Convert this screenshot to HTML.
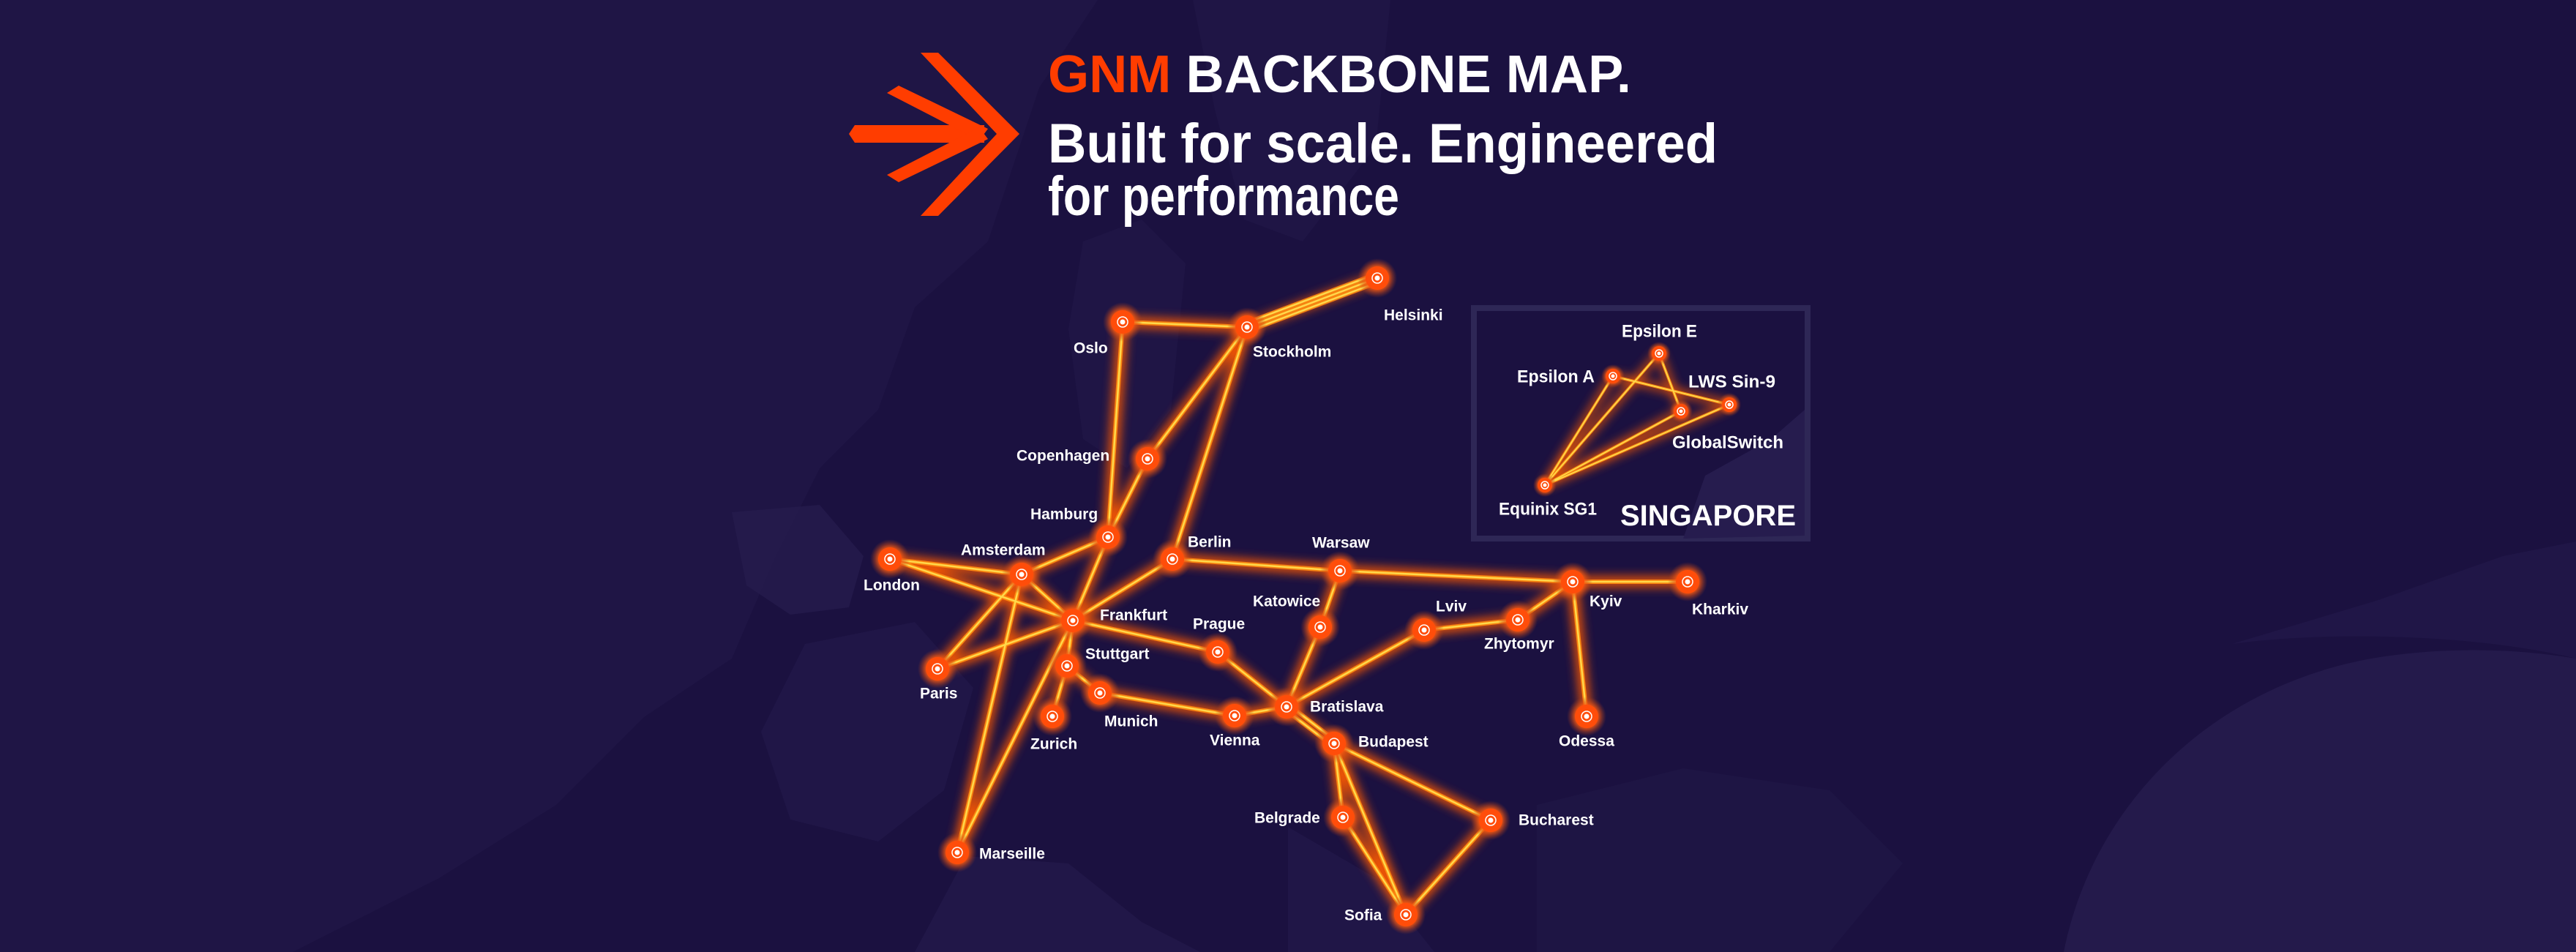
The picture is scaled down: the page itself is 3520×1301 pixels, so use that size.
<!DOCTYPE html>
<html><head><meta charset="utf-8"><style>
html,body{margin:0;padding:0;background:#1b1140;}
svg{display:block}
text{font-family:"Liberation Sans",sans-serif;font-weight:bold;fill:#fff}
</style></head><body>
<svg width="3520" height="1301" viewBox="0 0 3520 1301" xmlns="http://www.w3.org/2000/svg">
<defs>
<filter id="glow" x="-20%" y="-20%" width="140%" height="140%"><feGaussianBlur stdDeviation="7"/></filter>
<radialGradient id="halo"><stop offset="0.55" stop-color="#ff5a10" stop-opacity="0.9"/><stop offset="1" stop-color="#a8401e" stop-opacity="0.0"/></radialGradient>
</defs>
<rect width="3520" height="1301" fill="#1b1140"/>
<!-- land masses -->
<g fill="#261c4e">
<path d="M0 0 H1500 L1420 120 L1350 330 L1250 420 L1200 560 L1120 640 L1060 760 L1000 900 L880 980 L760 1100 L600 1200 L400 1301 H0 Z" opacity="0.4"/>
<path d="M1000 700 L1120 690 L1180 760 L1160 830 L1080 840 L1020 800 Z" opacity="0.7"/>
<path d="M1100 880 L1250 850 L1330 940 L1290 1080 L1200 1150 L1080 1120 L1040 1000 Z" opacity="0.5"/>
<path d="M1320 1170 L1460 1180 L1560 1260 L1640 1301 H1250 Z" opacity="0.6"/>
<path d="M1760 1130 L1880 1200 L1960 1301 H1760 Z" opacity="0.5"/>
<path d="M2820 1301 C2860 1100 3020 940 3240 900 C3360 880 3460 890 3520 900 V1301 Z" opacity="0.85"/>
<path d="M3050 880 L3250 820 L3420 760 L3520 740 V900 C3400 870 3200 860 3050 880 Z" opacity="0.5"/>
<path d="M2100 1100 L2300 1050 L2500 1080 L2600 1180 L2500 1301 H2100 Z" opacity="0.35"/>
<path d="M1480 330 L1560 300 L1620 360 L1600 560 L1540 640 L1480 600 L1460 450 Z" opacity="0.4"/>
<path d="M1630 0 H1900 L1880 200 L1780 330 L1700 300 L1660 150 Z" opacity="0.4"/>
</g>
<!-- Singapore box -->
<rect x="2014" y="421" width="456" height="315" fill="#1b1140" stroke="#2e2756" stroke-width="8"/>
<path d="M2300 736 L2330 650 L2420 600 L2466 560 V732 Z" fill="#261c4e"/>

<!-- Header -->
<g fill="#ff3d00">
<polygon points="1258,72 1282,72 1393,183 1282,295 1258,295 1362,183"/>
<polygon points="1160,183 1168,171 1345,171 1345,195 1168,195"/>
<polygon points="1212,127 1228,117 1350,176 1338,192"/>
<polygon points="1212,239 1228,249 1350,190 1338,174"/>
</g>
<text x="1432" y="126" font-size="72" textLength="797" lengthAdjust="spacingAndGlyphs"><tspan fill="#ff3d00">GNM</tspan> BACKBONE MAP.</text>
<text x="1432" y="222" font-size="76" textLength="915" lengthAdjust="spacingAndGlyphs">Built for scale. Engineered</text>
<text x="1432" y="294" font-size="76" textLength="480" lengthAdjust="spacingAndGlyphs">for performance</text>

<!-- edges -->
<g stroke-linecap="round" fill="none">
<g stroke="#ff5a00" stroke-width="14" filter="url(#glow)" opacity="0.95">
<path d="M1534 440L1704 447M1704 447L1882 380M1534 440L1514 734M1704 447L1568 627M1704 447L1602 764M1568 627L1514 734M1514 734L1396 785M1514 734L1466 848M1216 764L1396 785M1216 764L1466 848M1396 785L1466 848M1396 785L1281 914M1396 785L1308 1165M1466 848L1281 914M1466 848L1602 764M1466 848L1458 910M1466 848L1664 891M1466 848L1308 1165M1458 910L1438 979M1458 910L1503 947M1503 947L1687 978M1687 978L1758 966M1664 891L1758 966M1602 764L1831 780M1831 780L2149 795M1831 780L1804 857M1804 857L1758 966M1758 966L1946 861M1946 861L2074 847M2074 847L2149 795M2149 795L2306 795M2149 795L2168 979M1758 966L1823 1016M1823 1016L1835 1117M1823 1016L1921 1250M1823 1016L2037 1121M1835 1117L1921 1250M2037 1121L1921 1250"/>
<path d="M2111 663L2204 514M2111 663L2267 483M2111 663L2297 562M2111 663L2363 553M2204 514L2363 553M2267 483L2297 562" stroke-width="8"/>
</g>
<g stroke="#ff8a10" stroke-width="6" opacity="0.9">
<path d="M1534 440L1704 447M1534 440L1514 734M1704 447L1568 627M1704 447L1602 764M1568 627L1514 734M1514 734L1396 785M1514 734L1466 848M1216 764L1396 785M1216 764L1466 848M1396 785L1466 848M1396 785L1281 914M1396 785L1308 1165M1466 848L1281 914M1466 848L1602 764M1466 848L1458 910M1466 848L1664 891M1466 848L1308 1165M1458 910L1438 979M1458 910L1503 947M1503 947L1687 978M1687 978L1758 966M1664 891L1758 966M1602 764L1831 780M1831 780L2149 795M1831 780L1804 857M1804 857L1758 966M1758 966L1946 861M1946 861L2074 847M2074 847L2149 795M2149 795L2306 795M2149 795L2168 979M1823 1016L1835 1117M1823 1016L1921 1250M1823 1016L2037 1121M1835 1117L1921 1250M2037 1121L1921 1250"/>
<path d="M1704 441L1882 374M1704 447L1882 380M1704 453L1882 386M1758 961L1823 1011M1758 971L1823 1021"/>
<path d="M2111 663L2204 514M2111 663L2267 483M2111 663L2297 562M2111 663L2363 553M2204 514L2363 553M2267 483L2297 562" stroke-width="4"/>
</g>
<g stroke="#ffd84a" stroke-width="2.5">
<path d="M1534 440L1704 447M1534 440L1514 734M1704 447L1568 627M1704 447L1602 764M1568 627L1514 734M1514 734L1396 785M1514 734L1466 848M1216 764L1396 785M1216 764L1466 848M1396 785L1466 848M1396 785L1281 914M1396 785L1308 1165M1466 848L1281 914M1466 848L1602 764M1466 848L1458 910M1466 848L1664 891M1466 848L1308 1165M1458 910L1438 979M1458 910L1503 947M1503 947L1687 978M1687 978L1758 966M1664 891L1758 966M1602 764L1831 780M1831 780L2149 795M1831 780L1804 857M1804 857L1758 966M1758 966L1946 861M1946 861L2074 847M2074 847L2149 795M2149 795L2306 795M2149 795L2168 979M1823 1016L1835 1117M1823 1016L1921 1250M1823 1016L2037 1121M1835 1117L1921 1250M2037 1121L1921 1250"/>
<path d="M1704 441L1882 374M1704 447L1882 380M1704 453L1882 386M1758 961L1823 1011M1758 971L1823 1021"/>
<path d="M2111 663L2204 514M2111 663L2267 483M2111 663L2297 562M2111 663L2363 553M2204 514L2363 553M2267 483L2297 562" stroke-width="1.8"/>
</g>
</g>

<g>
<g fill="url(#halo)">
<circle cx="1882" cy="380" r="27"/><circle cx="1534" cy="440" r="27"/><circle cx="1704" cy="447" r="27"/><circle cx="1568" cy="627" r="27"/><circle cx="1514" cy="734" r="27"/><circle cx="1216" cy="764" r="27"/><circle cx="1396" cy="785" r="27"/><circle cx="1602" cy="764" r="27"/><circle cx="1831" cy="780" r="27"/><circle cx="2149" cy="795" r="27"/><circle cx="2306" cy="795" r="27"/><circle cx="1466" cy="848" r="27"/><circle cx="1281" cy="914" r="27"/><circle cx="1458" cy="910" r="27"/><circle cx="1438" cy="979" r="27"/><circle cx="1503" cy="947" r="27"/><circle cx="1664" cy="891" r="27"/><circle cx="1804" cy="857" r="27"/><circle cx="1946" cy="861" r="27"/><circle cx="2074" cy="847" r="27"/><circle cx="1758" cy="966" r="27"/><circle cx="1687" cy="978" r="27"/><circle cx="1823" cy="1016" r="27"/><circle cx="1835" cy="1117" r="27"/><circle cx="2037" cy="1121" r="27"/><circle cx="1921" cy="1250" r="27"/><circle cx="1308" cy="1165" r="27"/><circle cx="2168" cy="979" r="27"/>
<circle cx="2267" cy="483" r="16"/><circle cx="2204" cy="514" r="16"/><circle cx="2297" cy="562" r="16"/><circle cx="2363" cy="553" r="16"/><circle cx="2111" cy="663" r="16"/>
</g>
<g fill="#ff4d0a">
<circle cx="1882" cy="380" r="16"/><circle cx="1534" cy="440" r="16"/><circle cx="1704" cy="447" r="16"/><circle cx="1568" cy="627" r="16"/><circle cx="1514" cy="734" r="16"/><circle cx="1216" cy="764" r="16"/><circle cx="1396" cy="785" r="16"/><circle cx="1602" cy="764" r="16"/><circle cx="1831" cy="780" r="16"/><circle cx="2149" cy="795" r="16"/><circle cx="2306" cy="795" r="16"/><circle cx="1466" cy="848" r="16"/><circle cx="1281" cy="914" r="16"/><circle cx="1458" cy="910" r="16"/><circle cx="1438" cy="979" r="16"/><circle cx="1503" cy="947" r="16"/><circle cx="1664" cy="891" r="16"/><circle cx="1804" cy="857" r="16"/><circle cx="1946" cy="861" r="16"/><circle cx="2074" cy="847" r="16"/><circle cx="1758" cy="966" r="16"/><circle cx="1687" cy="978" r="16"/><circle cx="1823" cy="1016" r="16"/><circle cx="1835" cy="1117" r="16"/><circle cx="2037" cy="1121" r="16"/><circle cx="1921" cy="1250" r="16"/><circle cx="1308" cy="1165" r="16"/><circle cx="2168" cy="979" r="16"/>
<circle cx="2267" cy="483" r="10"/><circle cx="2204" cy="514" r="10"/><circle cx="2297" cy="562" r="10"/><circle cx="2363" cy="553" r="10"/><circle cx="2111" cy="663" r="10"/>
</g>
<g fill="#fff">
<circle cx="1882" cy="380" r="3.5"/><circle cx="1534" cy="440" r="3.5"/><circle cx="1704" cy="447" r="3.5"/><circle cx="1568" cy="627" r="3.5"/><circle cx="1514" cy="734" r="3.5"/><circle cx="1216" cy="764" r="3.5"/><circle cx="1396" cy="785" r="3.5"/><circle cx="1602" cy="764" r="3.5"/><circle cx="1831" cy="780" r="3.5"/><circle cx="2149" cy="795" r="3.5"/><circle cx="2306" cy="795" r="3.5"/><circle cx="1466" cy="848" r="3.5"/><circle cx="1281" cy="914" r="3.5"/><circle cx="1458" cy="910" r="3.5"/><circle cx="1438" cy="979" r="3.5"/><circle cx="1503" cy="947" r="3.5"/><circle cx="1664" cy="891" r="3.5"/><circle cx="1804" cy="857" r="3.5"/><circle cx="1946" cy="861" r="3.5"/><circle cx="2074" cy="847" r="3.5"/><circle cx="1758" cy="966" r="3.5"/><circle cx="1687" cy="978" r="3.5"/><circle cx="1823" cy="1016" r="3.5"/><circle cx="1835" cy="1117" r="3.5"/><circle cx="2037" cy="1121" r="3.5"/><circle cx="1921" cy="1250" r="3.5"/><circle cx="1308" cy="1165" r="3.5"/><circle cx="2168" cy="979" r="3.5"/>
<circle cx="2267" cy="483" r="2.5"/><circle cx="2204" cy="514" r="2.5"/><circle cx="2297" cy="562" r="2.5"/><circle cx="2363" cy="553" r="2.5"/><circle cx="2111" cy="663" r="2.5"/>
</g>
<g fill="none" stroke="#fff" stroke-width="1.5">
<circle cx="1882" cy="380" r="7"/><circle cx="1534" cy="440" r="7"/><circle cx="1704" cy="447" r="7"/><circle cx="1568" cy="627" r="7"/><circle cx="1514" cy="734" r="7"/><circle cx="1216" cy="764" r="7"/><circle cx="1396" cy="785" r="7"/><circle cx="1602" cy="764" r="7"/><circle cx="1831" cy="780" r="7"/><circle cx="2149" cy="795" r="7"/><circle cx="2306" cy="795" r="7"/><circle cx="1466" cy="848" r="7"/><circle cx="1281" cy="914" r="7"/><circle cx="1458" cy="910" r="7"/><circle cx="1438" cy="979" r="7"/><circle cx="1503" cy="947" r="7"/><circle cx="1664" cy="891" r="7"/><circle cx="1804" cy="857" r="7"/><circle cx="1946" cy="861" r="7"/><circle cx="2074" cy="847" r="7"/><circle cx="1758" cy="966" r="7"/><circle cx="1687" cy="978" r="7"/><circle cx="1823" cy="1016" r="7"/><circle cx="1835" cy="1117" r="7"/><circle cx="2037" cy="1121" r="7"/><circle cx="1921" cy="1250" r="7"/><circle cx="1308" cy="1165" r="7"/><circle cx="2168" cy="979" r="7"/>
<circle cx="2267" cy="483" r="5"/><circle cx="2204" cy="514" r="5"/><circle cx="2297" cy="562" r="5"/><circle cx="2363" cy="553" r="5"/><circle cx="2111" cy="663" r="5"/>
</g>
</g>

<g font-size="21" dominant-baseline="central">
<text x="1891" y="431">Helsinki</text>
<text x="1467" y="476">Oslo</text>
<text x="1712" y="481">Stockholm</text>
<text x="1389" y="623">Copenhagen</text>
<text x="1408" y="703">Hamburg</text>
<text x="1313" y="752">Amsterdam</text>
<text x="1180" y="800">London</text>
<text x="1623" y="741">Berlin</text>
<text x="1793" y="742">Warsaw</text>
<text x="1712" y="822">Katowice</text>
<text x="1503" y="841">Frankfurt</text>
<text x="1630" y="853">Prague</text>
<text x="1962" y="829">Lviv</text>
<text x="2028" y="880">Zhytomyr</text>
<text x="2172" y="822">Kyiv</text>
<text x="2312" y="833">Kharkiv</text>
<text x="1483" y="894">Stuttgart</text>
<text x="1257" y="948">Paris</text>
<text x="1509" y="986">Munich</text>
<text x="1408" y="1017">Zurich</text>
<text x="1653" y="1012">Vienna</text>
<text x="1790" y="966">Bratislava</text>
<text x="1856" y="1014">Budapest</text>
<text x="2130" y="1013">Odessa</text>
<text x="1714" y="1118">Belgrade</text>
<text x="2075" y="1121">Bucharest</text>
<text x="1338" y="1167">Marseille</text>
<text x="1837" y="1251">Sofia</text>
</g>
<g font-size="24" dominant-baseline="central">
<text x="2216" y="453" textLength="103" lengthAdjust="spacingAndGlyphs">Epsilon E</text>
<text x="2073" y="515" textLength="106" lengthAdjust="spacingAndGlyphs">Epsilon A</text>
<text x="2307" y="522" textLength="119" lengthAdjust="spacingAndGlyphs">LWS Sin-9</text>
<text x="2285" y="605" textLength="152" lengthAdjust="spacingAndGlyphs">GlobalSwitch</text>
<text x="2048" y="696" textLength="134" lengthAdjust="spacingAndGlyphs">Equinix SG1</text>
</g>
<text x="2214" y="718" font-size="40" textLength="240" lengthAdjust="spacingAndGlyphs">SINGAPORE</text>
</svg>
</body></html>
